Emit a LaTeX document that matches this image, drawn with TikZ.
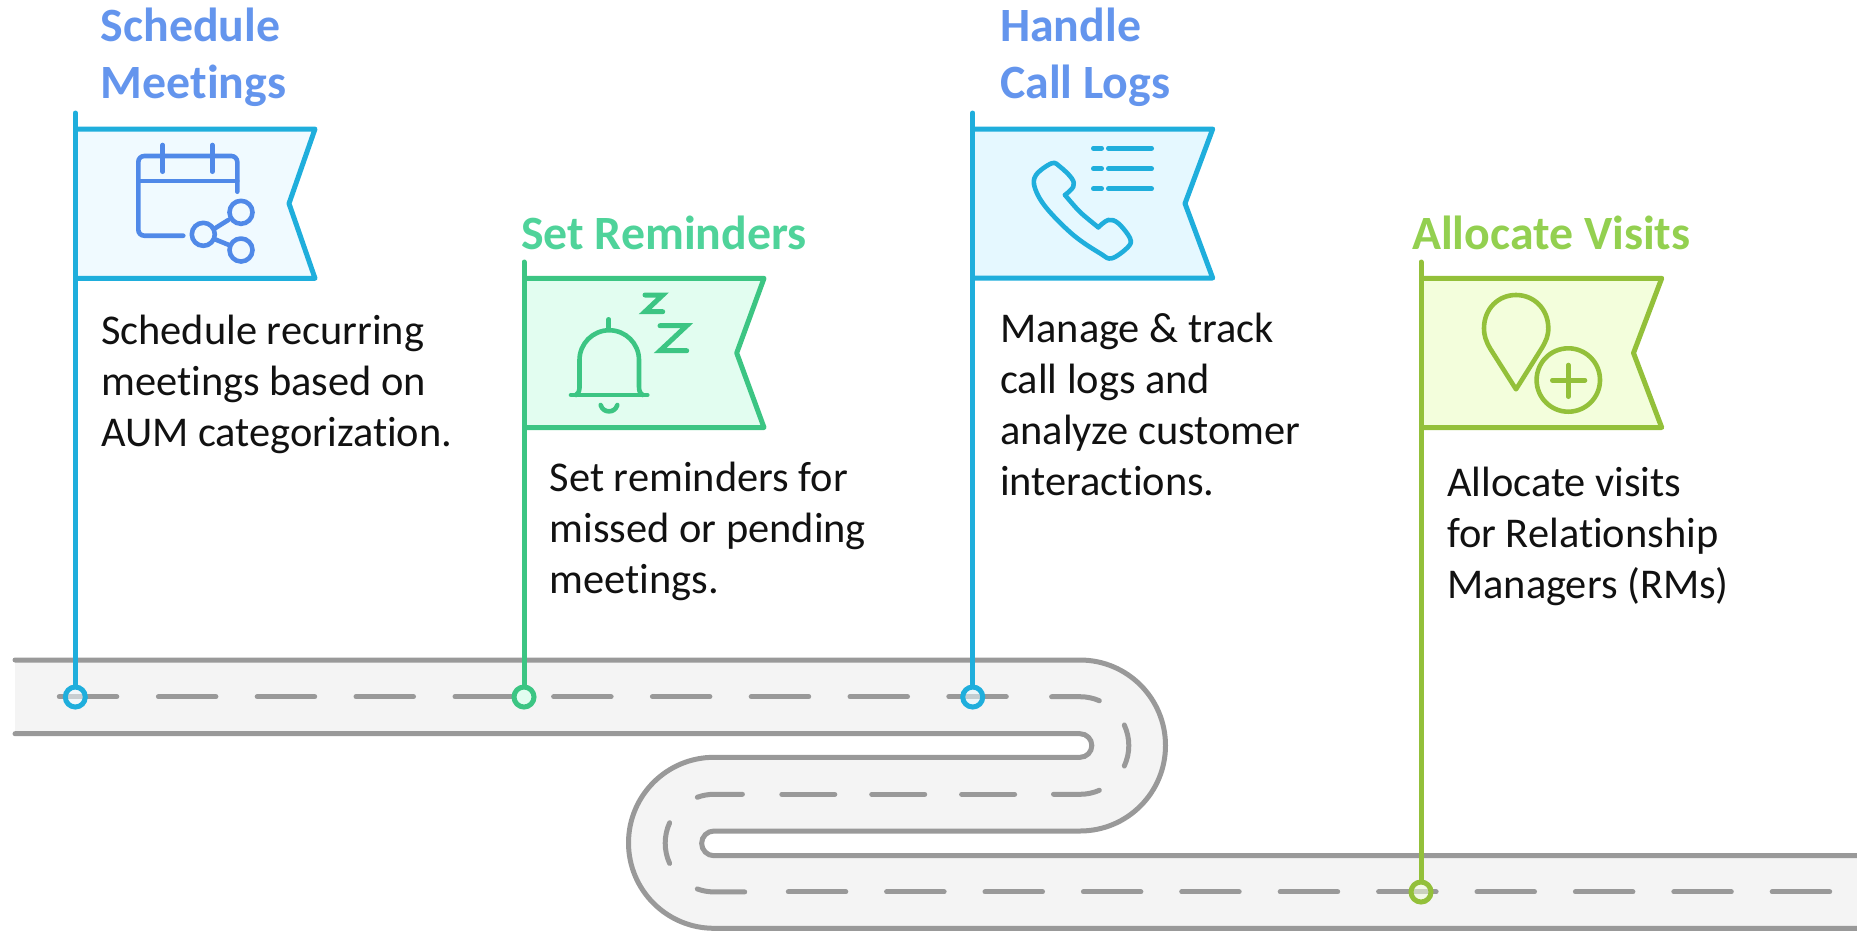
\documentclass[tikz,border=0pt]{standalone}
\usepackage{fontspec}
\setmainfont{Carlito}[Ligatures=NoCommon]
\definecolor{poleblue}{HTML}{1FAEDC}
\definecolor{polegreen}{HTML}{3CC583}
\definecolor{polelime}{HTML}{93C03A}
\definecolor{iconblue}{HTML}{5089E8}
\definecolor{titleblue}{HTML}{6495ED}
\definecolor{titlegreen}{HTML}{4FD39A}
\definecolor{titlelime}{HTML}{93D050}
\definecolor{fillA}{HTML}{F0FAFF}
\definecolor{fillB}{HTML}{E2FDF0}
\definecolor{fillC}{HTML}{E5F8FF}
\definecolor{fillD}{HTML}{F3FEDC}
\definecolor{roadfill}{HTML}{F4F4F4}
\definecolor{roadline}{HTML}{999999}
\definecolor{bodytext}{HTML}{111111}
\tikzset{
  roadedge/.style={draw=roadline,line width=5pt,line cap=round},
  roaddash/.style={draw=roadline,line width=5pt,line cap=round},
  flagshape/.style={line width=5pt,line join=round},
  polestick/.style={line width=5pt,line cap=round},
  icon/.style={line width=4.6pt,line cap=round,line join=round},
  pin/.style={circle,minimum size=20pt,inner sep=0pt,line width=5pt},
  titletext/.style={anchor=base west,align=left,inner sep=0pt,font=\fontsize{47.8}{56.7}\selectfont\bfseries},
  bodylabel/.style={anchor=base west,align=left,inner sep=0pt,text=bodytext,font=\fontsize{42.4}{51}\selectfont},
}
\begin{document}
\begin{tikzpicture}[x=1pt,y=1pt,yscale=-1]
\useasboundingbox (0,0) rectangle (1857,935);
% road
\draw[draw=roadfill,line width=73pt] (15,696.7) -- (1080,696.7) arc[start angle=-90,end angle=90,radius=48.8pt] -- (714,794.3) arc[start angle=-90,end angle=-270,radius=48.8pt] -- (1857,891.9);
\draw[roadedge] (15,660) -- (1080,660) arc[start angle=-90,end angle=90,radius=85.5pt] -- (714,831) arc[start angle=-90,end angle=-270,radius=12.35pt] -- (1859,855.7);
\draw[roadedge] (15,733.7) -- (1080,733.7) arc[start angle=-90,end angle=90,radius=11.8pt] -- (714,757.3) arc[start angle=-90,end angle=-270,radius=85.5pt] -- (1859,928.3);
% dashes: upper lane
\foreach \a in {59.3,158.4,257.2,356,455,553.6,652.4,751.2,850,948.8}
  \draw[roaddash] (\a,696.7) -- ++(57.5,0);
\draw[roaddash] (1051.6,696.7) -- (1080,696.7) arc[start angle=-90,end angle=-66.6,radius=48.8pt];
\draw[roaddash] (1080,745.5) ++(-24.8:48.8pt) arc[start angle=-24.8,end angle=24.8,radius=48.8pt];
\draw[roaddash] (1053.5,794.3) -- (1080,794.3) arc[start angle=90,end angle=66.6,radius=48.8pt];
% dashes: middle lane
\foreach \a in {961.6,871.7,781.8}
  \draw[roaddash] (\a,794.3) -- ++(53,0);
\draw[roaddash] (742.4,794.3) -- (714,794.3) arc[start angle=-90,end angle=-110,radius=48.8pt];
\draw[roaddash] (714,843.1) ++(155.4:48.8pt) arc[start angle=155.4,end angle=204.6,radius=48.8pt];
% dashes: lower lane
\draw[roaddash] (744.7,891.9) -- (714,891.9) arc[start angle=90,end angle=110,radius=48.8pt];
\foreach \a in {788.3,886.6,985,1083.4,1181.7,1280.2,1378.6,1477,1575.4,1673.8,1772.2}
  \draw[roaddash] (\a,891.9) -- ++(57.5,0);
% flag 1
\coordinate (p1top) at (75.3,113);
\node[pin,draw=poleblue,fill=fillA,fill opacity=.55,draw opacity=1] (pin1) at (75.3,697) {};
\draw[flagshape,draw=poleblue,fill=fillA] (75.3,129) -- (315,129) -- (289,203.5) -- (315,278.3) -- (75.3,278.3);
\draw[polestick,draw=poleblue] (p1top) -- (pin1);
% flag 2
\coordinate (p2top) at (524,262);
\node[pin,draw=polegreen,fill=fillB] (pin2) at (524,697) {};
\draw[flagshape,draw=polegreen,fill=fillB] (524,278.3) -- (764,278.3) -- (736.7,353) -- (764,427.5) -- (524,427.5);
\draw[polestick,draw=polegreen] (p2top) -- (pin2);
% flag 3
\coordinate (p3top) at (972.7,113);
\node[pin,draw=poleblue,fill=fillC,fill opacity=.55,draw opacity=1] (pin3) at (972.7,697) {};
\draw[flagshape,draw=poleblue,fill=fillC] (972.7,129) -- (1212.7,129) -- (1185,203.5) -- (1212.7,278) -- (972.7,278);
\draw[polestick,draw=poleblue] (p3top) -- (pin3);
% flag 4
\coordinate (p4top) at (1421,262);
\node[pin,draw=polelime,fill=fillD,fill opacity=.55,draw opacity=1] (pin4) at (1421,892) {};
\draw[flagshape,draw=polelime,fill=fillD] (1421,278.3) -- (1661.7,278.3) -- (1633.5,353) -- (1661.7,427.5) -- (1421,427.5);
\draw[polestick,draw=polelime] (p4top) -- (pin4);
% calendar icon
\begin{scope}[icon,draw=iconblue]
\draw[rounded corners=6pt] (237.3,191.7) -- (237.3,156) -- (138.3,156) -- (138.3,235.7) -- (183.3,235.7);
\draw (138.3,181) -- (237.3,181);
\draw (162.7,145) -- (162.7,171.7);
\draw (212.3,145) -- (212.3,171.7);
\draw (241,212.3) circle[radius=11.5pt];
\draw (203.3,234.3) circle[radius=11.5pt];
\draw (241,250) circle[radius=11.5pt];
\draw (215,228.3) -- (228.3,220);
\draw (215,239.3) -- (229,245);
\end{scope}
% bell icon
\begin{scope}[icon,draw=polegreen]
\draw (571,395) -- (647.3,395);
\draw (576,395) .. controls (579.5,392) and (579.5,390) .. (579.5,385) -- (579.5,360) arc[start angle=180,end angle=360,radius=29.75pt] -- (639,385) .. controls (639,390) and (639,392) .. (642.5,395);
\draw (608.7,319.3) -- (608.7,329.3);
\draw (600.7,405) .. controls (603,413.5) and (615,413.5) .. (617.3,405);
\draw[line width=5pt,line join=miter] (645,295) -- (662.7,295) -- (645,311.7) -- (662.7,311.7);
\draw[line width=5pt,line join=miter] (660,325.7) -- (686.7,325.7) -- (660,350.7) -- (686.7,350.7);
\end{scope}
% phone icon
\begin{scope}[icon,draw=poleblue]
\draw plot[smooth,tension=.5] coordinates {(1065,195) (1080,212) (1098.3,227.3)};
\draw plot[smooth,tension=.6] coordinates {(1098.3,227.3) (1108.3,220) (1118.3,223.3) (1130,238.3) (1128,247) (1111.7,258.3) (1100,253.3) (1073.3,235) (1046.7,208.3) (1035,188.3) (1036,175) (1051.7,163.3) (1060,166.7) (1071.7,178.3) (1073.3,186.7) (1065,195)};
\foreach \yy in {148.3,168.7,188.7} {
  \draw (1093.3,\yy) -- (1101.7,\yy);
  \draw (1108.3,\yy) -- (1151.7,\yy);
}
\end{scope}
% pin icon
\begin{scope}[icon,draw=polelime]
\draw (1516,389.3) -- (1490,348.3) .. controls (1486,341) and (1484,336) .. (1484,328.3) .. controls (1484,309) and (1498,295) .. (1516,295) .. controls (1534,295) and (1548.3,309) .. (1548.3,328.3) .. controls (1548.3,336) and (1546,341) .. (1541.7,348.3) -- cycle;
\draw (1568.3,380) circle[radius=31.7pt];
\draw (1552.3,380.3) -- (1585,380.3);
\draw (1568.3,365) -- (1568.3,396.7);
\end{scope}
% texts
\node[titletext,text=titleblue] (t1) at (100.7,98.5) {Schedule\\Meetings};
\node[titletext,text=titlegreen] (t2) at (521,249) {Set Reminders};
\node[titletext,text=titleblue] (t3) at (1000,98.5) {Handle\\Call Logs};
\node[titletext,text=titlelime] (t4) at (1412,249) {Allocate Visits};
\node[bodylabel] (b1) at (101,446) {Schedule recurring\\meetings based on\\AUM categorization.};
\node[bodylabel] (b2) at (549.5,593) {Set reminders for\\missed or pending\\meetings.};
\node[bodylabel] (b3) at (1000,495) {Manage \& track\\call logs and\\analyze customer\\interactions.};
\node[bodylabel] (b4) at (1447,598) {Allocate visits\\for Relationship\\Managers (RMs)};
\end{tikzpicture}
\end{document}
